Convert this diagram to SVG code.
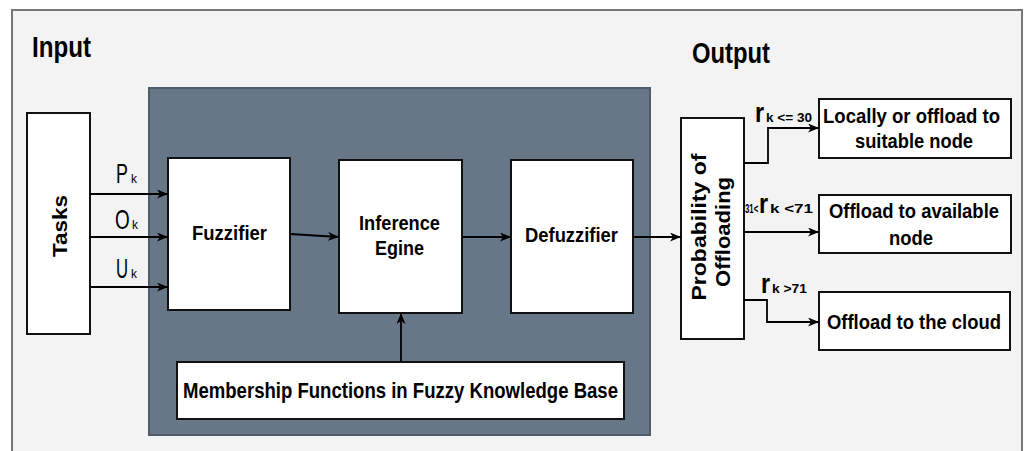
<svg xmlns="http://www.w3.org/2000/svg" width="1025" height="451" viewBox="0 0 1025 451">
<style>
.box{fill:#ffffff;stroke:#111111;stroke-width:2}
.t{font-family:"Liberation Sans",Arial,sans-serif;font-weight:bold;fill:#000}
.r{font-family:"Liberation Sans",Arial,sans-serif;fill:#000}
.c{fill:none;stroke:#000;stroke-width:1.8}
</style>
<defs>
<marker id="ah" markerUnits="userSpaceOnUse" markerWidth="12" markerHeight="10" refX="11" refY="4.5" orient="auto">
<path d="M0,0 L11,4.5 L0,9 L3,4.5 z" fill="#000"/>
</marker>
</defs>
<rect x="0" y="0" width="1025" height="451" fill="#ffffff"/>
<rect id="frame" x="12" y="10" width="1010" height="460" fill="#f3f3f3" stroke="#777777" stroke-width="2"/>
<g id="titles">
<text class="t" x="32" y="57" font-size="29" textLength="59" lengthAdjust="spacingAndGlyphs">Input</text>
<text class="t" x="692" y="63" font-size="29" textLength="78" lengthAdjust="spacingAndGlyphs">Output</text>
</g>
<g id="panel"><rect x="149" y="88" width="501" height="347" fill="#677788" stroke="#4e5c6b" stroke-width="2"/></g>
<g id="tasks">
<rect class="box" x="27" y="113" width="63" height="221"/>
<text class="t" transform="translate(67,226) rotate(-90)" text-anchor="middle" font-size="21" textLength="62" lengthAdjust="spacingAndGlyphs">Tasks</text>
</g>
<g id="fuzzifier">
<rect class="box" x="168" y="158" width="122" height="152"/>
<text class="t" x="192" y="240" font-size="21" textLength="75" lengthAdjust="spacingAndGlyphs">Fuzzifier</text>
</g>
<g id="inference">
<rect class="box" x="339" y="160" width="123" height="153"/>
<text class="t" x="359" y="230" font-size="21" textLength="81" lengthAdjust="spacingAndGlyphs">Inference</text>
<text class="t" x="375" y="255" font-size="21" textLength="49" lengthAdjust="spacingAndGlyphs">Egine</text>
</g>
<g id="defuzzifier">
<rect class="box" x="511" y="160" width="122" height="153"/>
<text class="t" x="525" y="242" font-size="21" textLength="93" lengthAdjust="spacingAndGlyphs">Defuzzifier</text>
</g>
<g id="membership">
<rect class="box" x="177" y="362" width="447" height="57"/>
<text class="t" x="183" y="398" font-size="22" textLength="435" lengthAdjust="spacingAndGlyphs">Membership Functions in Fuzzy Knowledge Base</text>
</g>
<g id="probability">
<rect class="box" x="681" y="118" width="63" height="221"/>
<text class="t" transform="translate(706,227) rotate(-90)" text-anchor="middle" font-size="21" textLength="147" lengthAdjust="spacingAndGlyphs">Probability of</text>
<text class="t" transform="translate(730,232) rotate(-90)" text-anchor="middle" font-size="21" textLength="110" lengthAdjust="spacingAndGlyphs">Offloading</text>
</g>
<g id="out1">
<rect class="box" x="819" y="99" width="192" height="59"/>
<text class="t" x="823" y="123" font-size="20" textLength="177" lengthAdjust="spacingAndGlyphs">Locally or offload to</text>
<text class="t" x="855" y="148" font-size="20" textLength="118" lengthAdjust="spacingAndGlyphs">suitable node</text>
</g>
<g id="out2">
<rect class="box" x="819" y="195" width="192" height="58"/>
<text class="t" x="829" y="218" font-size="20" textLength="170" lengthAdjust="spacingAndGlyphs">Offload to available</text>
<text class="t" x="889" y="245" font-size="20" textLength="44" lengthAdjust="spacingAndGlyphs">node</text>
</g>
<g id="out3">
<rect class="box" x="819" y="292" width="191" height="58"/>
<text class="t" x="827" y="329" font-size="20" textLength="174" lengthAdjust="spacingAndGlyphs">Offload to the cloud</text>
</g>
<g id="connectors">
<path class="c" d="M90,194 H168" marker-end="url(#ah)"/>
<path class="c" d="M90,237 H168" marker-end="url(#ah)"/>
<path class="c" d="M90,287 H168" marker-end="url(#ah)"/>
<path class="c" d="M290,234 L339,237" marker-end="url(#ah)"/>
<path class="c" d="M462,237 H511" marker-end="url(#ah)"/>
<path class="c" d="M633,237 H681" marker-end="url(#ah)"/>
<path class="c" d="M401,362 V313" marker-end="url(#ah)"/>
<path class="c" d="M744,163 H768 V128 H819" marker-end="url(#ah)"/>
<path class="c" d="M744,232 H819" marker-end="url(#ah)"/>
<path class="c" d="M744,300 H767 V322 H819" marker-end="url(#ah)"/>
</g>
<g id="labels">
<text class="r" transform="translate(116,183) scale(0.66,1)" font-size="27">P</text>
<text class="r" x="131" y="183" font-size="12">k</text>
<text class="r" transform="translate(115,229) scale(0.7,1)" font-size="27">O</text>
<text class="r" x="132" y="229" font-size="12">k</text>
<text class="r" transform="translate(116,278) scale(0.62,1)" font-size="27">U</text>
<text class="r" x="131" y="278" font-size="12">k</text>
<text class="t" transform="translate(755,122) scale(0.83,1)" font-size="28">r</text>
<text class="t" x="766" y="122" font-size="13" textLength="46" lengthAdjust="spacingAndGlyphs">k &lt;= 30</text>
<text class="t" transform="translate(745,213) scale(0.6,1)" font-size="13">31&lt;</text>
<text class="t" transform="translate(759,213) scale(0.83,1)" font-size="28">r</text>
<text class="t" x="770" y="213" font-size="13" textLength="43" lengthAdjust="spacingAndGlyphs">k &lt;71</text>
<text class="t" transform="translate(761,293) scale(0.83,1)" font-size="28">r</text>
<text class="t" x="772" y="293" font-size="13" textLength="35" lengthAdjust="spacingAndGlyphs">k &gt;71</text>
</g>
</svg>
